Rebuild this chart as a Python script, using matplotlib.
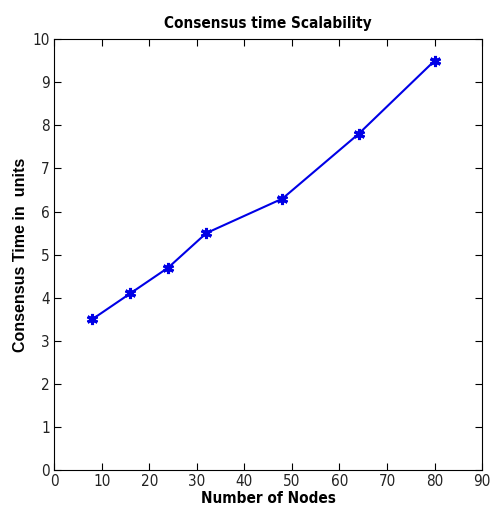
import matplotlib
matplotlib.use("Agg")
import matplotlib.pyplot as plt

# data
nodes = [8, 16, 24, 32, 48, 64, 80]
consensus_time = [3.5, 4.1, 4.7, 5.5, 6.3, 7.8, 9.5]

fig = plt.figure(figsize=(4.92, 5.15), dpi=100)
ax = fig.add_axes([0.11, 0.087, 0.87, 0.837])

ax.plot(nodes, consensus_time, color='#0000e6', linewidth=1.5,
        marker=(6, 2, 0), markersize=8, markeredgewidth=2.2)

ax.set_xlim(0, 90)
ax.set_ylim(0, 10)
ax.set_xticks(range(0, 91, 10))
ax.set_yticks(range(0, 11, 1))
ax.tick_params(direction='in', top=True, right=True, length=5, width=0.8,
               labelsize=11, pad=3)
for lab in ax.get_xticklabels() + ax.get_yticklabels():
    lab.set_family('DejaVu Sans')
    lab.set_stretch('condensed')
    lab.set_color('#222222')

ax.set_title('Consensus time Scalability', fontsize=11, fontweight='bold',
             family='DejaVu Sans', stretch='condensed', pad=8)
ax.set_xlabel('Number of Nodes', fontsize=11, fontweight='bold',
              family='DejaVu Sans', stretch='condensed', labelpad=1)
ax.set_ylabel('Consensus Time in  units', fontsize=11.5, fontweight='bold',
              family='Liberation Sans', labelpad=3)

for s in ax.spines.values():
    s.set_linewidth(0.8)

fig.savefig('out.png', dpi=100)
